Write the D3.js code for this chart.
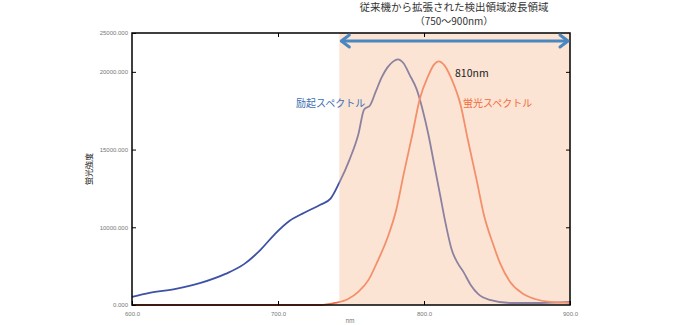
<!DOCTYPE html>
<html><head><meta charset="utf-8">
<script src="https://cdn.jsdelivr.net/npm/d3@7"></script>
<style>body{margin:0;background:#fff;}svg{display:block;font-family:"Noto Sans CJK JP","Noto Sans",sans-serif;}</style>
</head><body><svg id="c" width="678" height="325"></svg>
<script>
const excitationNm = [600,612,630,647,664,677,688,698,708,718,729,736,742,749,755,759,763,767,771,775,779,782,786,790,795,799,803,807,811,815,819,823,827,832,837,845,859,880,900];
const excitationVal = [1030,1550,2070,2840,4000,5290,7100,9160,10840,11870,12900,13680,15740,18710,21940,25160,25680,27480,29290,30580,31350,31610,31100,29680,27740,25160,21940,18070,14190,10320,7100,5420,4260,2580,1420,650,260,260,390];
const fluorNm = [600,729,739,748,755,762,768,775,781,786,792,797,803,807,810,814,819,825,830,836,841,847,852,859,867,876,886,900];
const fluorVal = [0,0,260,770,1680,3230,5550,8650,12260,16770,21940,26450,29550,30970,31350,30840,29030,25810,21290,16130,11610,8000,5420,2970,1550,770,390,260];
const xTicks = [600,700,800,900];
const xTickLabels = ["600.0","700.0","800.0","900.0"];
const yTicks = [0,10000,20000,30000,35000];
const yTickLabels = ["0.000","10000.000","15000.000","20000.000","25000.000"];
const regionNm = [742,900];
const peakLabel = "810nm";

const svg = d3.select("#c");
const m = {l:132, r:108, t:33, b:20};
const W = 678, H = 325;
const x = d3.scaleLinear().domain([600,900]).range([m.l, W-m.r]);
const y = d3.scaleLinear().domain([0,35000]).range([H-m.b, m.t]);

const line = d3.line().x(d=>x(d[0])).y(d=>y(d[1])).curve(d3.curveMonotoneX);
svg.append("path").datum(d3.zip(excitationNm, excitationVal)).attr("d", line)
  .attr("fill","none").attr("stroke","#3d52a6").attr("stroke-width",1.8);
svg.append("path").datum(d3.zip(fluorNm, fluorVal)).attr("d", line)
  .attr("fill","none").attr("stroke","#f26a48").attr("stroke-width",1.8);

// shaded region overlay
svg.append("rect").attr("x", x(regionNm[0])).attr("y", y(35000))
  .attr("width", x(regionNm[1]) - x(regionNm[0])).attr("height", y(0)-y(35000))
  .attr("fill","#f6c09a").attr("opacity",0.43);

// frame
svg.append("rect").attr("x", m.l).attr("y", m.t).attr("width", W-m.l-m.r).attr("height", H-m.t-m.b)
  .attr("fill","none").attr("stroke","#000").attr("stroke-width",1.5);

const tickFont = g => g.selectAll("text").attr("fill","#777").style("font-size","6px").style("font-family","Liberation Sans, sans-serif");
const xb = svg.append("g").attr("transform",`translate(0,${y(0)})`)
  .call(d3.axisBottom(x).tickValues(xTicks).tickFormat((d,i)=>xTickLabels[i]).tickSizeInner(-4).tickSizeOuter(0).tickPadding(7));
xb.select(".domain").remove(); tickFont(xb);
const xt = svg.append("g").attr("transform",`translate(0,${y(35000)})`)
  .call(d3.axisTop(x).tickValues(xTicks.slice(1,3)).tickFormat("").tickSizeInner(-4).tickSizeOuter(0));
xt.select(".domain").remove();
const yl = svg.append("g").attr("transform",`translate(${m.l},0)`)
  .call(d3.axisLeft(y).tickValues(yTicks).tickFormat((d,i)=>yTickLabels[i]).tickSizeInner(-4).tickSizeOuter(0).tickPadding(4));
yl.select(".domain").remove(); tickFont(yl);
const yr = svg.append("g").attr("transform",`translate(${W-m.r},0)`)
  .call(d3.axisRight(y).tickValues(yTicks.slice(1,4)).tickFormat("").tickSizeInner(-4).tickSizeOuter(0));
yr.select(".domain").remove();
svg.selectAll(".tick line").attr("stroke","#000").attr("stroke-width",1);

// axis titles
svg.append("text").attr("x", 350).attr("y", 323).attr("text-anchor","middle")
  .style("font-size","6px").attr("fill","#777").text("nm");
svg.append("text").attr("transform","translate(92,169) rotate(-90)").attr("text-anchor","middle")
  .style("font-size","8px").attr("fill","#222").text("蛍光強度");

// double arrow
const ay = 41;
const ax1 = x(regionNm[0]) + 1, ax2 = x(regionNm[1]) - 1;
svg.append("line").attr("x1",ax1+2).attr("x2",ax2-2).attr("y1",ay).attr("y2",ay)
  .attr("stroke","#4a86c0").attr("stroke-width",3);
svg.append("path").attr("d",`M${ax1+9},${ay-6} L${ax1+1},${ay} L${ax1+9},${ay+6}`)
  .attr("fill","none").attr("stroke","#4a86c0").attr("stroke-width",3).attr("stroke-linecap","round").attr("stroke-linejoin","round");
svg.append("path").attr("d",`M${ax2-9},${ay-6} L${ax2-1},${ay} L${ax2-9},${ay+6}`)
  .attr("fill","none").attr("stroke","#4a86c0").attr("stroke-width",3).attr("stroke-linecap","round").attr("stroke-linejoin","round");

// title
svg.append("text").attr("x", 454).attr("y", 11).attr("text-anchor","middle")
  .style("font-size","10.5px").attr("fill","#333").text("従来機から拡張された検出領域波長領域");
svg.append("text").attr("x", 454).attr("y", 25).attr("text-anchor","middle")
  .style("font-size","10px").attr("fill","#333").text("（750〜900nm）");

// labels
svg.append("text").attr("x", 296).attr("y", 107).style("font-size","10px").attr("fill","#3a6cb4").text("励起スペクトル");
svg.append("text").attr("x", 463).attr("y", 107).style("font-size","10px").attr("fill","#f26a3c").text("蛍光スペクトル");
svg.append("text").attr("x", 455).attr("y", 77).style("font-size","10.5px").attr("fill","#222").text(peakLabel);
</script></body></html>
